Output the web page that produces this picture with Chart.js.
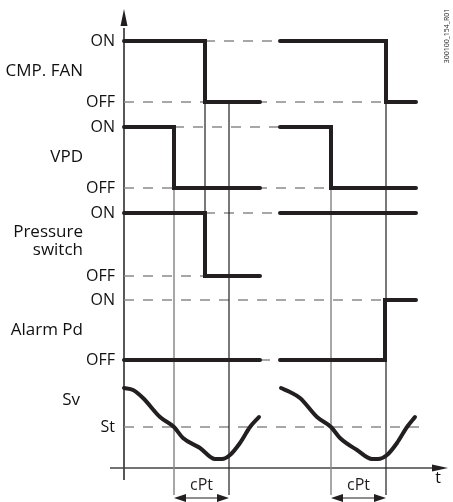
<!DOCTYPE html>
<html>
<head>
<meta charset="utf-8">
<script src="https://cdn.jsdelivr.net/npm/chart.js@4"></script>
<style>
  html, body { margin: 0; padding: 0; background: #fff; }
  canvas { display: block; }
</style>
</head>
<body>
<canvas id="timing" width="453" height="502"></canvas>
<script>
// ---- data (time in arbitrary units, levels in arbitrary units) ----
const signalNames = ['CMP. FAN', 'VPD', 'Pressure switch', 'Alarm Pd'];
const onLevels  = [42.7, 34.1, 25.5, 16.8];
const offLevels = [36.6, 28.0, 19.2, 10.8];

// each cycle: [start, end]
const cycles = [[0, 13.6], [15.6, 29.2]];

// state changes per signal per cycle: [time, state]
const fanSteps   = [[[0, 1], [8.1, 0]],  [[15.6, 1], [26.2, 0]]];
const vpdSteps   = [[[0, 1], [5.0, 0]],  [[15.6, 1], [20.7, 0]]];
const pswSteps   = [[[0, 1], [8.1, 0]],  [[15.6, 1]]];
const alarmSteps = [[[0, 0]],            [[15.6, 0], [26.1, 1]]];
const allSteps = [fanSteps, vpdSteps, pswSteps, alarmSteps];

// Sv curve samples
const svTimes1  = [0, 0.9, 1.9, 3.6, 5.0, 5.9, 7.6, 9.1, 9.8, 10.6, 11.6, 12.6, 13.5];
const svValues1 = [8.0, 7.8, 7.0, 5.1, 4.1, 3.0, 2.0, 0.9, 0.9, 1.3, 2.5, 4.1, 5.1];
const svTimes2  = [15.7, 16.6, 17.6, 19.3, 20.7, 21.6, 23.3, 24.8, 25.4, 26.3, 27.3, 28.3, 29.1];
const svValues2 = [8.0, 7.6, 7.0, 5.1, 4.1, 3.0, 1.8, 0.9, 0.9, 1.3, 2.5, 4.1, 5.1];
const stLevel = 4.1;
const stEnd = 29.9;

// dashed guide lines: [level, from, to]
const guides = [
  [onLevels[0], 8.1, 15.6], [offLevels[0], 0, 26.2],
  [onLevels[1], 5.0, 15.6], [offLevels[1], 0, 20.7],
  [onLevels[2], 8.1, 15.6], [offLevels[2], 0, 8.1],
  [onLevels[3], 0, 26.1],   [offLevels[3], 13.6, 15.6],
  [stLevel, 0, stEnd]
];

// cursor lines: [time, top level, color]
const cursors = [
  [5.0, offLevels[1], '#8a8a8a'],
  [10.5, offLevels[0], '#231f20'],
  [20.7, offLevels[1], '#8a8a8a'],
  [26.2, offLevels[0], '#231f20']
];
const linkCursor = [8.1, offLevels[0], onLevels[2]];
const cursorBottom = -2.7;

// cPt intervals
const cptIntervals = [[5.0, 10.5], [20.7, 26.2]];

// ---- build datasets ----
const INK = '#231f20';
const GRAY = '#8a8a8a';
const datasets = [];

allSteps.forEach((sig, i) => {
  sig.forEach((steps, c) => {
    const pts = [];
    const lv = s => s ? onLevels[i] : offLevels[i];
    steps.forEach(([t, s], k) => {
      if (k > 0) pts.push({x: t, y: lv(steps[k - 1][1])});
      pts.push({x: t, y: lv(s)});
    });
    pts.push({x: cycles[c][1], y: lv(steps[steps.length - 1][1])});
    datasets.push({data: pts, borderColor: INK, borderWidth: 4, borderCapStyle: 'round',
      borderJoinStyle: 'miter', order: 0});
  });
});

[[svTimes1, svValues1], [svTimes2, svValues2]].forEach(([ts, vs]) => {
  datasets.push({data: ts.map((t, k) => ({x: t, y: vs[k]})), borderColor: INK, borderWidth: 4,
    borderCapStyle: 'round', cubicInterpolationMode: 'monotone', order: 0});
});

guides.forEach(([lv, a, b]) => {
  datasets.push({data: [{x: a, y: lv}, {x: b, y: lv}], borderColor: GRAY, borderWidth: 1.5,
    borderDash: [10, 9], order: 3});
});

cursors.forEach(([t, top, col]) => {
  datasets.push({data: [{x: t, y: top}, {x: t, y: cursorBottom}], borderColor: col,
    borderWidth: col === GRAY ? 1.5 : 1.2, order: 2});
});
datasets.push({data: [{x: linkCursor[0], y: linkCursor[1]}, {x: linkCursor[0], y: linkCursor[2]}],
  borderColor: INK, borderWidth: 1.2, order: 2});

// ---- axes, arrows and labels ----
const FONT = '"Open Sans", sans-serif';

const decorPlugin = {
  id: 'decor',
  beforeDatasetsDraw(chart) {
    const ctx = chart.ctx, x = chart.scales.x, y = chart.scales.y;
    const px = v => x.getPixelForValue(v), py = v => y.getPixelForValue(v);
    ctx.save();
    ctx.strokeStyle = INK; ctx.fillStyle = INK; ctx.lineWidth = 1.5;
    // y axis
    ctx.beginPath(); ctx.moveTo(px(0), py(-1.2)); ctx.lineTo(px(0), py(44)); ctx.stroke();
    ctx.beginPath(); ctx.moveTo(px(0), py(45.9)); ctx.lineTo(px(0) - 3.5, py(44.2));
    ctx.lineTo(px(0) + 3.5, py(44.2)); ctx.closePath(); ctx.fill();
    // x axis
    ctx.strokeStyle = '#444';
    ctx.beginPath(); ctx.moveTo(px(-1.4), py(0)); ctx.lineTo(px(31), py(0)); ctx.stroke();
    ctx.beginPath(); ctx.moveTo(px(32.4), py(0)); ctx.lineTo(px(30.8), py(0) - 3.5);
    ctx.lineTo(px(30.8), py(0) + 3.5); ctx.closePath(); ctx.fill();
    ctx.restore();
  },
  afterDraw(chart) {
    const ctx = chart.ctx, x = chart.scales.x, y = chart.scales.y;
    const px = v => x.getPixelForValue(v), py = v => y.getPixelForValue(v);
    ctx.save();
    ctx.fillStyle = '#111'; ctx.strokeStyle = INK;
    ctx.font = '16px ' + FONT;
    ctx.textBaseline = 'middle';
    ctx.textAlign = 'right';
    onLevels.forEach(v => ctx.fillText('ON', px(-0.9), py(v)));
    offLevels.forEach(v => ctx.fillText('OFF', px(-0.9), py(v)));
    ctx.fillText('St', px(-0.9), py(stLevel));
    // signal names
    ctx.font = '17px ' + FONT;
    ctx.fillText(signalNames[0], px(-4.1), py((onLevels[0] + offLevels[0]) / 2));
    ctx.fillText(signalNames[1], px(-4.1), py((onLevels[1] + offLevels[1]) / 2));
    const pm = py((onLevels[2] + offLevels[2]) / 2);
    ctx.fillText('Pressure', px(-4.1), pm - 12);
    ctx.fillText('switch', px(-4.1), pm + 6);
    ctx.fillText(signalNames[3], px(-4.1), py((onLevels[3] + offLevels[3]) / 2));
    ctx.fillText('Sv', px(-4.4), py(6.8));
    // t label
    ctx.font = '16px ' + FONT;
    ctx.textAlign = 'center';
    ctx.fillText('t', px(31.4), py(-1.0));
    // cPt intervals
    ctx.fillStyle = INK;
    cptIntervals.forEach(([a, b]) => {
      const ya = py(-3.0), xa = px(a), xb = px(b);
      ctx.lineWidth = 1.2;
      ctx.beginPath(); ctx.moveTo(xa + 8, ya); ctx.lineTo(xb - 8, ya); ctx.stroke();
      ctx.beginPath(); ctx.moveTo(xa, ya); ctx.lineTo(xa + 12, ya - 4); ctx.lineTo(xa + 12, ya + 4);
      ctx.closePath(); ctx.fill();
      ctx.beginPath(); ctx.moveTo(xb, ya); ctx.lineTo(xb - 12, ya - 4); ctx.lineTo(xb - 12, ya + 4);
      ctx.closePath(); ctx.fill();
      ctx.fillText('cPt', (xa + xb) / 2, py(-1.7));
    });
    // drawing code
    ctx.translate(447, 36);
    ctx.rotate(-Math.PI / 2);
    ctx.font = '7px ' + FONT;
    ctx.fillText('300100_154_R01', 0, 0);
    ctx.restore();
  }
};

new Chart(document.getElementById('timing'), {
  type: 'scatter',
  data: {datasets},
  options: {
    responsive: false,
    animation: false,
    devicePixelRatio: 1,
    showLine: true,
    layout: {padding: 0},
    elements: {point: {radius: 0, hoverRadius: 0}, line: {tension: 0}},
    plugins: {legend: {display: false}, tooltip: {enabled: false}},
    scales: {
      x: {type: 'linear', min: -12.4, max: 32.9, display: false},
      y: {type: 'linear', min: -3.4, max: 46.8, display: false}
    }
  },
  plugins: [decorPlugin]
});
</script>
</body>
</html>
